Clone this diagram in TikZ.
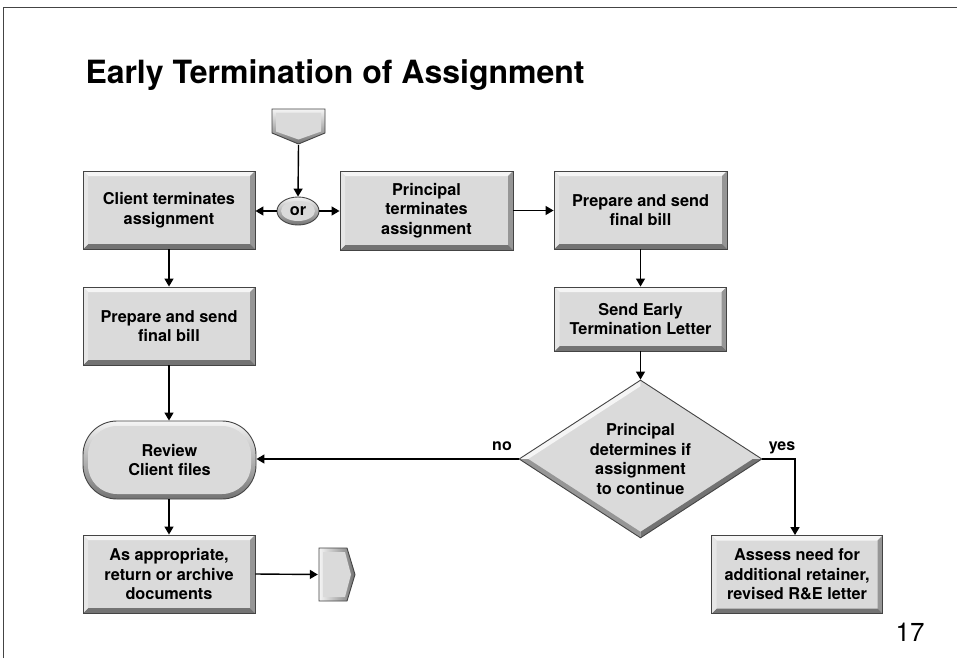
\documentclass[tikz,border=0pt]{standalone}
\usepackage{fontspec}
\setmainfont{TeX Gyre Heros}
\usetikzlibrary{arrows.meta,calc,shapes.geometric}

\definecolor{face}{RGB}{218,218,218}
\definecolor{bevtop}{RGB}{245,245,245}
\definecolor{bevleft}{RGB}{230,230,230}
\definecolor{bevright}{RGB}{150,150,150}
\definecolor{bevbottom}{RGB}{115,115,115}
\definecolor{edgegray}{RGB}{68,68,68}

\newcommand\flowfont{\fontsize{16.3}{19.5}\selectfont\bfseries}

\tikzset{
  % bevelled process box
  procbox/.style={rectangle, draw=edgegray, line width=0.9pt, fill=face,
    minimum width=172pt, minimum height=78pt, inner sep=0pt, align=center,
    font=\flowfont,
    path picture={
      \path (path picture bounding box.south west) coordinate (pp-sw)
            (path picture bounding box.north east) coordinate (pp-ne);
      \coordinate (pp-nw) at (pp-sw |- pp-ne);
      \coordinate (pp-se) at (pp-ne |- pp-sw);
      \coordinate (pp-inw) at ($(pp-nw)+(5pt,-5pt)$);
      \coordinate (pp-ine) at ($(pp-ne)+(-5pt,-5pt)$);
      \coordinate (pp-ise) at ($(pp-se)+(-5pt,5pt)$);
      \coordinate (pp-isw) at ($(pp-sw)+(5pt,5pt)$);
      \fill[bevtop, sharp corners] (pp-nw) -- (pp-ne) -- (pp-ine) -- (pp-inw) -- cycle;
      \fill[bevright, sharp corners] (pp-ne) -- (pp-se) -- (pp-ise) -- (pp-ine) -- cycle;
      \fill[bevbottom, sharp corners] (pp-se) -- (pp-sw) -- (pp-isw) -- (pp-ise) -- cycle;
      \fill[bevleft, sharp corners] (pp-sw) -- (pp-nw) -- (pp-inw) -- (pp-isw) -- cycle;
    }},
  % bevelled decision diamond
  decision/.style={diamond, draw=edgegray, line width=0.9pt, fill=face,
    minimum width=243pt, minimum height=158pt, aspect=1.54, inner sep=0pt,
    align=center, font=\flowfont,
    path picture={
      \coordinate (pd-n) at (path picture bounding box.north);
      \coordinate (pd-e) at (path picture bounding box.east);
      \coordinate (pd-s) at (path picture bounding box.south);
      \coordinate (pd-w) at (path picture bounding box.west);
      \coordinate (pd-in) at ($(pd-n)+(0,-6pt)$);
      \coordinate (pd-ie) at ($(pd-e)+(-9pt,0)$);
      \coordinate (pd-is) at ($(pd-s)+(0,6pt)$);
      \coordinate (pd-iw) at ($(pd-w)+(9pt,0)$);
      \fill[bevtop] (pd-w) -- (pd-n) -- (pd-in) -- (pd-iw) -- cycle;
      \fill[bevleft!85!bevright] (pd-n) -- (pd-e) -- (pd-ie) -- (pd-in) -- cycle;
      \fill[bevbottom] (pd-e) -- (pd-s) -- (pd-is) -- (pd-ie) -- cycle;
      \fill[bevright] (pd-s) -- (pd-w) -- (pd-iw) -- (pd-is) -- cycle;
    }},
  % bevelled terminal (stadium)
  termbox/.style={rectangle, rounded corners=34pt, draw=edgegray, line width=0.9pt,
    top color=bevtop, bottom color=bevbottom,
    minimum width=173pt, minimum height=78pt, inner sep=0pt, align=center,
    font=\flowfont,
    path picture={
      \fill[face, rounded corners=29pt]
        ($(path picture bounding box.south west)+(5pt,5pt)$) rectangle
        ($(path picture bounding box.north east)+(-5pt,-5pt)$);
    }},
  % small "or" junction
  orbubble/.style={ellipse, draw=edgegray, line width=0.9pt,
    top color=bevtop, bottom color=bevbottom,
    minimum width=42pt, minimum height=28pt, inner sep=0pt, font=\flowfont,
    path picture={
      \fill[face] (path picture bounding box.center) ellipse (17pt and 10pt);
    }},
  % off-page connector entering from above
  entrytag/.style={rectangle, minimum width=55pt, minimum height=37pt, inner sep=0pt,
    path picture={
      \begin{scope}[shift={(path picture bounding box.center)}]
        \shade[top color=bevtop, bottom color=bevbottom]
          (-26.5pt,17.5pt) -- (26.5pt,17.5pt) -- (26.5pt,-6.5pt) -- (0pt,-17.5pt) -- (-26.5pt,-6.5pt) -- cycle;
        \fill[face] (-22.5pt,13.5pt) -- (22.5pt,13.5pt) -- (22.5pt,-5pt) -- (0pt,-13pt) -- (-22.5pt,-5pt) -- cycle;
        \draw[edgegray, line width=0.9pt]
          (-26.5pt,17.5pt) -- (26.5pt,17.5pt) -- (26.5pt,-6.5pt) -- (0pt,-17.5pt) -- (-26.5pt,-6.5pt) -- cycle;
      \end{scope}
    }},
  % off-page connector leaving to the right
  exittag/.style={rectangle, minimum width=38pt, minimum height=55pt, inner sep=0pt,
    path picture={
      \begin{scope}[shift={(path picture bounding box.center)}]
        \shade[left color=bevtop, right color=bevbottom]
          (-18pt,26.5pt) -- (10pt,26.5pt) -- (18pt,0pt) -- (10pt,-26.5pt) -- (-18pt,-26.5pt) -- cycle;
        \fill[face] (-14pt,22.5pt) -- (8pt,22.5pt) -- (14pt,0pt) -- (8pt,-22.5pt) -- (-14pt,-22.5pt) -- cycle;
        \draw[edgegray, line width=0.9pt]
          (-18pt,26.5pt) -- (10pt,26.5pt) -- (18pt,0pt) -- (10pt,-26.5pt) -- (-18pt,-26.5pt) -- cycle;
      \end{scope}
    }},
  flow/.style={-{Triangle[length=8pt,width=9pt]}, line width=1.4pt, black},
  branchlabel/.style={font=\fontsize{16}{19}\selectfont\bfseries, anchor=base}
}

\begin{document}
\begin{tikzpicture}[x=1pt, y=-1pt]
  \useasboundingbox (0,0) rectangle (957,658);
  \fill[white] (0,0) rectangle (957,658);
  \draw[edgegray, line width=1pt] (3,658) -- (3,8) -- (957,8);

  \node[anchor=base west, font=\fontsize{32}{36}\selectfont\bfseries] (title) at (82,84)
    {Early Termination of Assignment};

  % nodes
  \node[entrytag] (entry) at (298.5,126.5) {};
  \node[orbubble] (or) at (298,211) {or};
  \node[procbox] (client) at (169,210) {Client terminates\\assignment};
  \node[procbox, minimum width=173pt, minimum height=79pt] (principal) at (426.5,210.5)
    {Principal\\terminates\\assignment};
  \node[procbox, minimum width=173pt] (billR) at (640.5,210) {Prepare and send\\final bill};
  \node[procbox, minimum height=64pt] (letter) at (640.5,319) {Send Early\\Termination Letter};
  \node[decision] (decide) at (640.5,459)
    {Principal\\determines if\\assignment\\to continue};
  \node[procbox] (billL) at (169,326) {Prepare and send\\final bill};
  \node[termbox] (review) at (169.5,460) {Review\\Client files};
  \node[procbox] (archive) at (169,574) {As appropriate,\\return or archive\\documents};
  \node[exittag] (exitR) at (337,574.5) {};
  \node[procbox, minimum width=171pt] (assess) at (797,574.5)
    {Assess need for\\additional retainer,\\revised R\&E letter};

  % connectors
  \draw[flow] (entry.south) -- (or.north);
  \draw[flow] (or.west) -- (or.west -| client.east);
  \draw[flow] (or.east) -- (or.east -| principal.west);
  \draw[flow] (principal.east) -- (principal.east -| billR.west);
  \draw[flow] (billR.south) -- (letter.north);
  \draw[flow] (letter.south) -- (decide.north);
  \draw[flow] (decide.west) -- (decide.west -| review.east);
  \draw[flow] (decide.east) -| ($(assess.north)+(-2pt,0)$);
  \draw[flow] (client.south) -- (billL.north);
  \draw[flow] (billL.south) -- (review.north -| billL.south);
  \draw[flow] (review.south -| billL.south) -- (archive.north);
  \draw[flow] (archive.east) -- (exitR.west);

  % branch labels
  \node[branchlabel] (nolabel) at (502,450) {no};
  \node[branchlabel] (yeslabel) at (782,450) {yes};

  % page number
  \node[font=\fontsize{26}{30}\selectfont, anchor=base] (pagenum) at (910,641) {17};
\end{tikzpicture}
\end{document}
